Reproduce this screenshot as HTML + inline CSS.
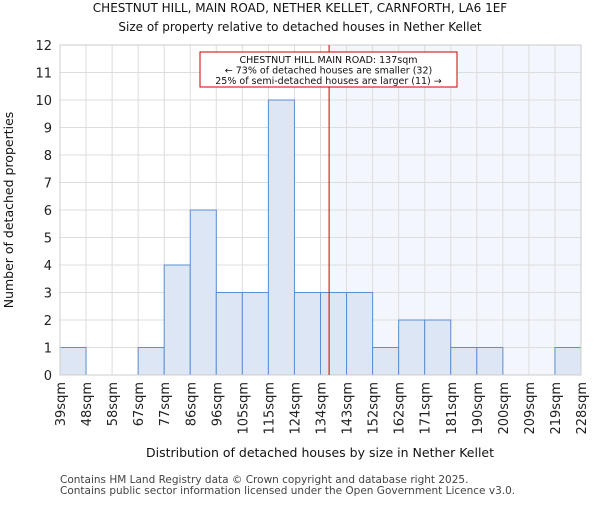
<!DOCTYPE html>
<html><head><meta charset="utf-8"><style>body{margin:0;background:#fff}svg{font-family:"DejaVu Sans","Liberation Sans",sans-serif}</style></head>
<body>
<svg id="c" width="600" height="500"></svg>
<script>
const binLabels=["39sqm","48sqm","58sqm","67sqm","77sqm","86sqm","96sqm","105sqm","115sqm","124sqm","134sqm","143sqm","152sqm","162sqm","171sqm","181sqm","190sqm","200sqm","209sqm","219sqm","228sqm"];
const counts=[1,0,0,1,4,6,3,3,10,3,3,3,1,2,2,1,1,0,0,1];
const yTicks=[0,1,2,3,4,5,6,7,8,9,10,11,12];
const markerBinPos=[10.33];
const NS="http://www.w3.org/2000/svg",s=document.getElementById('c');
const L=60,R=581,T=45,B=375,n=counts.length;
const x=i=>L+(R-L)*i/n, y=v=>B-(B-T)*v/12;
function el(t,a,p){const e=document.createElementNS(NS,t);for(const k in a)e.setAttribute(k,a[k]);(p||s).appendChild(e);return e;}
function tx(str,a){const e=el('text',a);e.textContent=str;return e;}
const mx=x(markerBinPos[0]);
const sh=el('rect',{x:mx,y:T,width:R-mx,height:B-T,fill:'#f3f6fd'});


for(let i=0;i<=n;i++)el('line',{x1:x(i),x2:x(i),y1:T,y2:B,stroke:'#ddd','stroke-width':1});
yTicks.forEach(v=>{el('line',{x1:L,x2:R,y1:y(v),y2:y(v),stroke:'#ddd','stroke-width':1});
const t=tx(v,{x:L-8,y:y(v)+5,'text-anchor':'end','font-size':13,fill:'#222'});

});
counts.forEach((c,i)=>{if(!c)return;const r=el('rect',{x:x(i),y:y(c),width:x(i+1)-x(i),height:B-y(c),fill:'#dce6f5',stroke:'#5b8fd1','stroke-width':1});

});
binLabels.forEach((b,i)=>{const t=tx(b,{transform:`translate(${x(i)+5},382) rotate(-90)`,'text-anchor':'end','font-size':13,fill:'#222'});

});
el('rect',{x:L,y:T,width:R-L,height:B-T,fill:'none',stroke:'#ccc'});
const ml=el('line',{x1:mx,x2:mx,y1:T,y2:B,stroke:'#cc0000','stroke-width':1});


const ab=el('rect',{x:200,y:52,width:257,height:35,fill:'#fff',stroke:'#cc0000','stroke-width':1});


["CHESTNUT HILL MAIN ROAD: 137sqm","← 73% of detached houses are smaller (32)","25% of semi-detached houses are larger (11) →"].forEach((l,i)=>{tx(l,{x:328.5,y:63+i*10.5,'text-anchor':'middle','font-size':9.5,fill:'#111'});});
const t1=tx("CHESTNUT HILL, MAIN ROAD, NETHER KELLET, CARNFORTH, LA6 1EF",{x:300,y:12,'text-anchor':'middle','font-size':12,fill:'#111'});


const t2=tx("Size of property relative to detached houses in Nether Kellet",{x:300,y:31,'text-anchor':'middle','font-size':12,fill:'#111'});


const xt=tx("Distribution of detached houses by size in Nether Kellet",{x:320,y:457,'text-anchor':'middle','font-size':12.5,fill:'#111'});


const yt=tx("Number of detached properties",{transform:'translate(13,210) rotate(-90)','text-anchor':'middle','font-size':12.5,fill:'#111'});


const f1=tx("Contains HM Land Registry data © Crown copyright and database right 2025.",{x:60,y:483,'font-size':10.5,fill:'#444'});


const f2=tx("Contains public sector information licensed under the Open Government Licence v3.0.",{x:60,y:494,'font-size':10.5,fill:'#444'});


</script>
</body></html>
